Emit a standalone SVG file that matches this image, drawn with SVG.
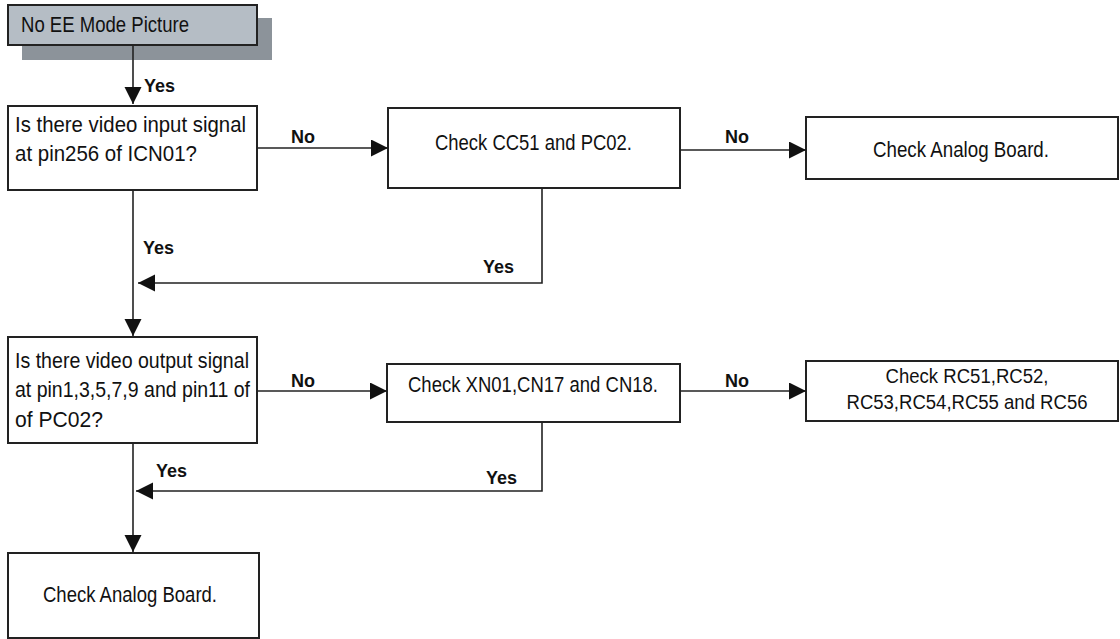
<svg xmlns="http://www.w3.org/2000/svg" width="1120" height="639" viewBox="0 0 1120 639">
<style>
.box{fill:#fff;stroke:#222;stroke-width:2}
.t{font-family:"Liberation Sans Narrow","Liberation Sans",Arial,sans-serif;font-size:22px;fill:#111}
.s{font-size:20.5px}
.lbl{font-family:"Liberation Sans",Arial,sans-serif;font-size:18px;font-weight:bold;fill:#111}
.ln{fill:none;stroke:#222;stroke-width:1.6}
</style>
<defs>
<marker id="ah" markerUnits="userSpaceOnUse" markerWidth="18" markerHeight="18" refX="17" refY="8.5" orient="auto">
<path d="M0,0 L17,8.5 L0,17 z" fill="#111"/>
</marker>
</defs>
<rect width="1120" height="639" fill="#fff"/>
<g id="start">
<rect x="22" y="18" width="250" height="42" fill="#8c939a"/>
<rect x="8" y="5" width="249" height="40" fill="#b5bdc5" stroke="#222" stroke-width="2"/>
<text class="t" x="21" y="32" textLength="168" lengthAdjust="spacingAndGlyphs">No EE Mode Picture</text>
</g>
<g id="q1">
<rect class="box" x="8" y="106" width="249" height="84"/>
<text class="t" x="15" y="132" textLength="231" lengthAdjust="spacingAndGlyphs">Is there video input signal</text>
<text class="t" x="15" y="161" textLength="182" lengthAdjust="spacingAndGlyphs">at pin256 of ICN01?</text>
</g>
<g id="c1">
<rect class="box" x="388" y="108" width="292" height="80"/>
<text class="t" x="435" y="150" textLength="197" lengthAdjust="spacingAndGlyphs">Check CC51 and PC02.</text>
</g>
<g id="a1">
<rect class="box" x="806" y="117" width="312" height="62"/>
<text class="t" x="873" y="157" textLength="176" lengthAdjust="spacingAndGlyphs">Check Analog Board.</text>
</g>
<g id="q2">
<rect class="box" x="8" y="337" width="249" height="106"/>
<text class="t" x="15" y="368" textLength="234" lengthAdjust="spacingAndGlyphs">Is there video output signal</text>
<text class="t" x="15" y="397" textLength="235" lengthAdjust="spacingAndGlyphs">at pin1,3,5,7,9 and pin11 of</text>
<text class="t" x="15" y="427" textLength="88" lengthAdjust="spacingAndGlyphs">of PC02?</text>
</g>
<g id="c2">
<rect class="box" x="387" y="364" width="293" height="58"/>
<text class="t" x="408" y="392" textLength="250" lengthAdjust="spacingAndGlyphs">Check XN01,CN17 and CN18.</text>
</g>
<g id="c3">
<rect class="box" x="806" y="361" width="312" height="60"/>
<text class="t s" x="967" y="383" text-anchor="middle" textLength="163" lengthAdjust="spacingAndGlyphs">Check RC51,RC52,</text>
<text class="t s" x="967" y="409" text-anchor="middle" textLength="241" lengthAdjust="spacingAndGlyphs">RC53,RC54,RC55 and RC56</text>
</g>
<g id="a2">
<rect class="box" x="8" y="553" width="251" height="85"/>
<text class="t" x="43" y="602" textLength="174" lengthAdjust="spacingAndGlyphs">Check Analog Board.</text>
</g>
<g id="connectors">
<line class="ln" x1="133" y1="45" x2="133" y2="104" marker-end="url(#ah)"/>
<text class="lbl" x="144" y="92">Yes</text>
<line class="ln" x1="257" y1="148" x2="388" y2="148" marker-end="url(#ah)"/>
<text class="lbl" x="291" y="143">No</text>
<line class="ln" x1="680" y1="150" x2="806" y2="150" marker-end="url(#ah)"/>
<text class="lbl" x="725" y="143">No</text>
<line class="ln" x1="133" y1="190" x2="133" y2="336" marker-end="url(#ah)"/>
<text class="lbl" x="143" y="254">Yes</text>
<polyline class="ln" points="542,188 542,283 138,283" marker-end="url(#ah)"/>
<text class="lbl" x="483" y="273">Yes</text>
<line class="ln" x1="257" y1="391" x2="387" y2="391" marker-end="url(#ah)"/>
<text class="lbl" x="291" y="387">No</text>
<line class="ln" x1="680" y1="391" x2="806" y2="391" marker-end="url(#ah)"/>
<text class="lbl" x="725" y="387">No</text>
<line class="ln" x1="133" y1="443" x2="133" y2="552" marker-end="url(#ah)"/>
<text class="lbl" x="156" y="477">Yes</text>
<polyline class="ln" points="542,422 542,491 136,491" marker-end="url(#ah)"/>
<text class="lbl" x="486" y="484">Yes</text>
</g>
</svg>
